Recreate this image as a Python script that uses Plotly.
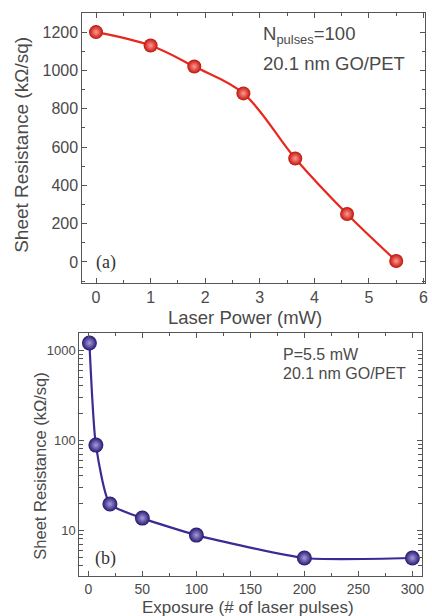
import plotly.graph_objects as go

# Panel (a)
power_mw = [0, 1, 1.8, 2.7, 3.65, 4.6, 5.5]
res_a = [1200, 1130, 1020, 880, 540, 250, 5]
# Panel (b)
pulses = [1, 7, 20, 50, 100, 200, 300]
res_b = [1200, 88, 19.5, 13.6, 8.8, 4.9, 4.9]

xticks_a = [0, 1, 2, 3, 4, 5, 6]
yticks_a = [0, 200, 400, 600, 800, 1000, 1200]
xticks_b = [0, 50, 100, 150, 200, 250, 300]
yticks_b = [10, 100, 1000]
yminor_b = [m * d for d in (1, 10, 100, 1000) for m in range(2, 10)]

RED = "#e8271d"
BLUE = "#3a2b95"
FONT = "Liberation Sans, Arial, sans-serif"
SERIF = "Liberation Serif, Times New Roman, serif"
AX = "#555555"
TXT = "#4a4a4a"

fig = go.Figure()
fig.add_trace(go.Scatter(
    x=power_mw, y=res_a, mode="lines+markers", xaxis="x", yaxis="y",
    line=dict(color=RED, width=2.2, shape="spline", smoothing=1.0),
    marker=dict(size=14, color="#c0120a", line=dict(width=0),
                gradient=dict(type="radial", color="#ff9a90")),
    showlegend=False))
fig.add_trace(go.Scatter(
    x=pulses, y=res_b, mode="lines+markers", xaxis="x2", yaxis="y2",
    line=dict(color=BLUE, width=2.2, shape="spline", smoothing=0.55),
    marker=dict(size=15, color="#24176e", line=dict(width=0),
                gradient=dict(type="radial", color="#a89ce0")),
    showlegend=False))

common = dict(showline=True, linecolor=AX, linewidth=1, mirror="ticks",
              ticks="inside", tickcolor=AX, ticklen=5, showgrid=False,
              zeroline=False)

fig.update_layout(
    width=432, height=616, margin=dict(l=0, r=0, t=0, b=0),
    paper_bgcolor="white", plot_bgcolor="white",
    xaxis=dict(domain=[0.192, 0.991], anchor="y", range=[-0.25, 6.03],
               tickvals=xticks_a, minor=dict(ticks="inside", ticklen=3, dtick=0.5, tickcolor=AX),
               tickfont=dict(family=FONT, size=16, color=TXT), **common),
    yaxis=dict(domain=[0.5406, 0.979], anchor="x", range=[-110, 1300],
               tickvals=yticks_a, minor=dict(ticks="inside", ticklen=3, dtick=100, tickcolor=AX),
               tickfont=dict(family=FONT, size=16, color=TXT), **common),
    xaxis2=dict(domain=[0.185, 0.984], anchor="y2", range=[-8.3, 309],
                tickvals=xticks_b, minor=dict(ticks="inside", ticklen=3, dtick=25, tickcolor=AX),
                tickfont=dict(family=FONT, size=14, color=TXT), **common),
    yaxis2=dict(domain=[0.0649, 0.4594], anchor="x2", type="log", range=[0.49, 3.19],
                tickvals=yticks_b, minor=dict(ticks="inside", ticklen=4, tickvals=yminor_b, tickcolor=AX),
                tickfont=dict(family=FONT, size=13, color=TXT), **common),
)

ann = [
    dict(text="Sheet Resistance (kΩ/sq)", x=21, y=145, textangle=-90, size=19, fam=FONT),
    dict(text="Laser Power (mW)", x=247, y=317, size=18.5, fam=FONT),
    dict(text="Sheet Resistance (kΩ/sq)", x=40, y=466, textangle=-90, size=16.5, fam=FONT),
    dict(text="Exposure (# of laser pulses)", x=250, y=607, size=17, fam=FONT),
]
for a in ann:
    fig.add_annotation(text=a["text"], xref="paper", yref="paper",
                       x=a["x"] / 432, y=1 - a["y"] / 616, showarrow=False,
                       textangle=a.get("textangle", 0),
                       font=dict(family=a["fam"], size=a["size"], color=TXT),
                       xanchor="center", yanchor="middle")

left_anns = [
    ("N<sub>pulses</sub>=100", 263, 35, 18.5),
    ("20.1 nm GO/PET", 263, 63, 18.5),
    ("P=5.5 mW", 283, 354, 16),
    ("20.1 nm GO/PET", 283, 374, 16),
]
for t, x, y, s in left_anns:
    fig.add_annotation(text=t, xref="paper", yref="paper", x=x / 432, y=1 - y / 616,
                       showarrow=False, xanchor="left", yanchor="middle",
                       font=dict(family=FONT, size=s, color=TXT))

fig.add_annotation(text="(a)", xref="paper", yref="paper", x=95 / 432, y=1 - 262 / 616,
                   showarrow=False, xanchor="left", yanchor="middle",
                   font=dict(family=SERIF, size=18, color="#333333"))
fig.add_annotation(text="(b)", xref="paper", yref="paper", x=94 / 432, y=1 - 558 / 616,
                   showarrow=False, xanchor="left", yanchor="middle",
                   font=dict(family=SERIF, size=18, color="#333333"))

fig.write_html("out.html")
